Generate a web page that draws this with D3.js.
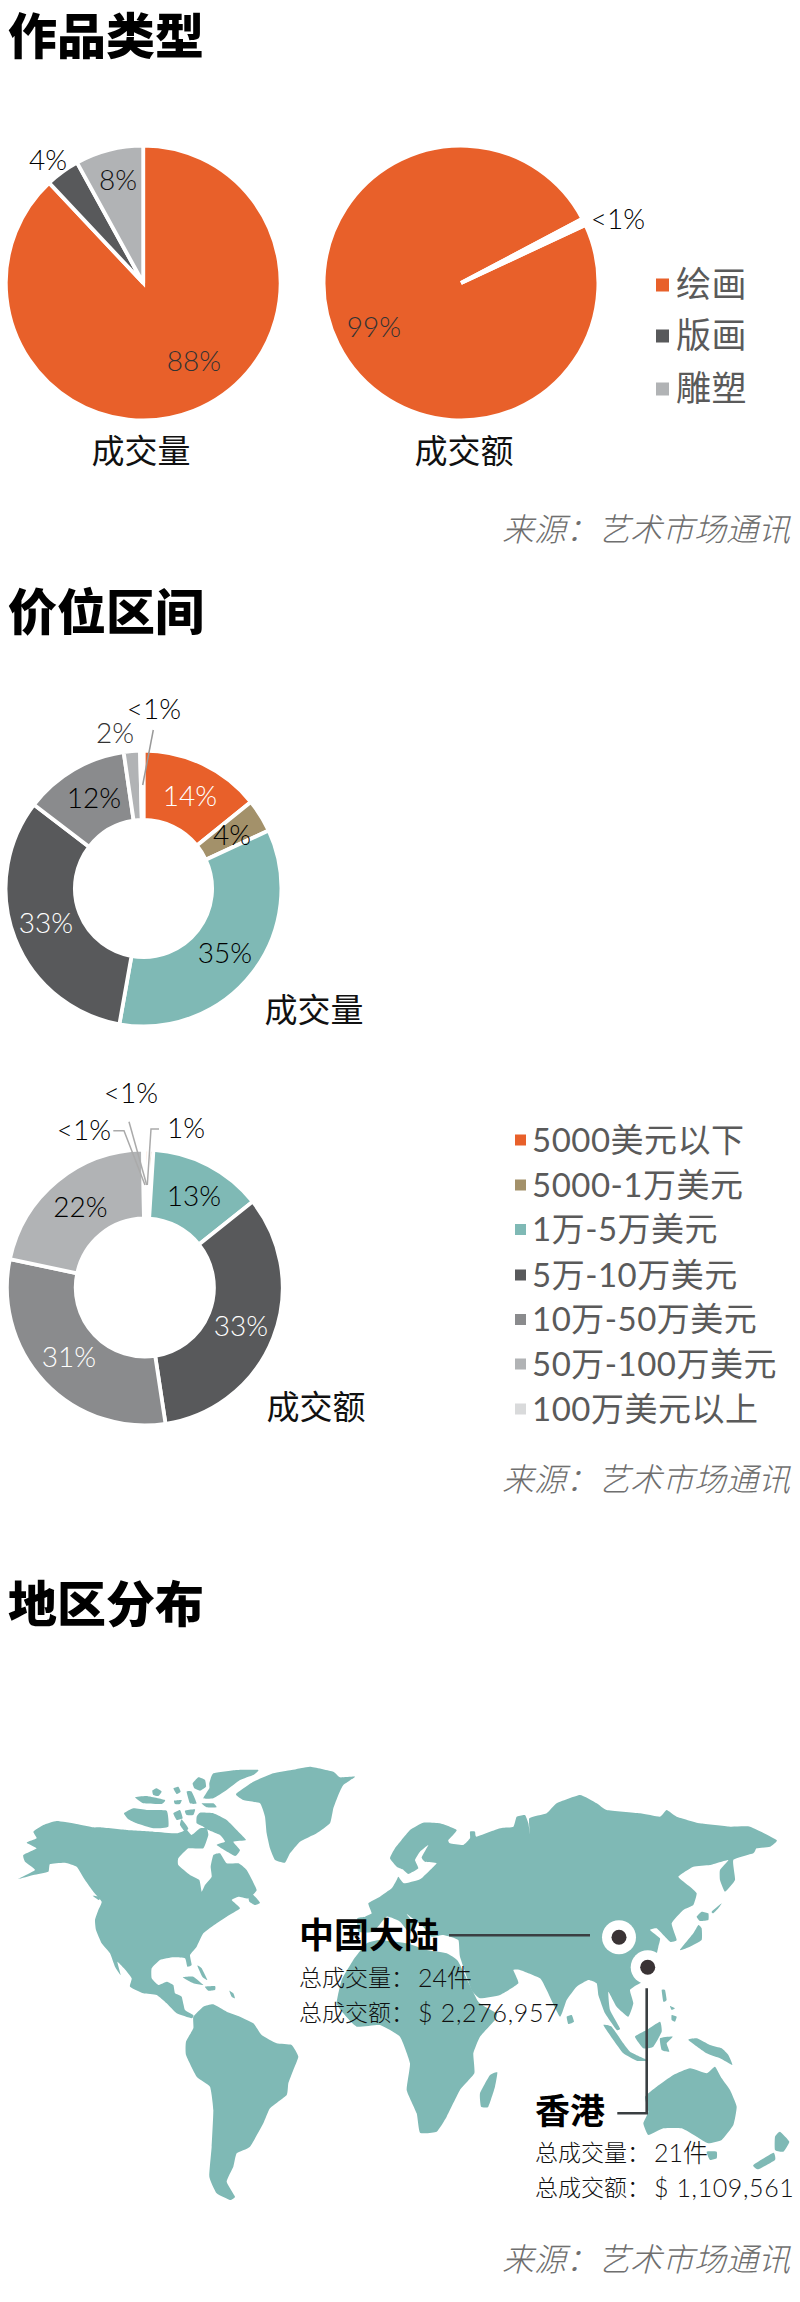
<!DOCTYPE html>
<html>
<head>
<meta charset="utf-8">
<script src="https://d3js.org/d3.v7.min.js"></script>
<style>
  body { margin: 0; background: #fff; }
  svg { display: block; }
  text { font-family: Lato, "Noto Sans CJK SC", sans-serif; }
</style>
</head>
<body>
<svg id="chart" width="800" height="2302"></svg>
<script>
// work type
var typeNames = ["绘画", "版画", "雕塑"];
var typeColors = ["#e8602a", "#58595b", "#b1b3b5"];
var typeVolume = [88, 4, 8];
var typeValueNames = ["绘画", "其他"];
var typeValue = [99.2, 0.8];
var typeValueColors = ["#e8602a", "#ffffff"];

// price range
var priceNames = ["5000美元以下", "5000-1万美元", "1万-5万美元", "5万-10万美元", "10万-50万美元", "50万-100万美元", "100万美元以上"];
var priceColors = ["#e8602a", "#a3916a", "#7fb9b5", "#58595b", "#8a8b8d", "#b1b3b5", "#d9dadb"];
var priceVolume = [14.2, 3.9, 34.7, 32.6, 12.3, 1.9, 0.4];
var priceValue = [0.5, 0.5, 13.3, 33.3, 30.7, 21.5, 0.2];

// map outlines (units: 1/3 px, see mapX / mapY)
var northAmerica = [[55,477],[100,465],[145,455],[150,432],[195,428],[230,440],[255,480],[280,515],[305,545],[295,570],[285,600],[288,630],[305,670],[330,700],[345,740],[362,765],[352,725],[372,745],[395,775],[390,800],[430,820],[470,825],[500,850],[530,880],[575,895],[580,885],[555,870],[545,830],[525,820],[520,795],[500,785],[475,795],[455,775],[455,745],[480,720],[520,712],[555,715],[562,740],[575,735],[570,705],[590,680],[610,640],[650,610],[680,590],[720,565],[695,540],[715,530],[745,535],[770,510],[740,450],[715,430],[680,430],[660,400],[640,405],[632,440],[635,470],[615,495],[605,515],[598,480],[570,465],[535,435],[535,415],[565,385],[610,385],[625,345],[620,325],[600,325],[575,345],[560,330],[530,340],[460,335],[380,330],[300,322],[280,322],[230,312],[170,303],[130,315],[100,335],[110,355],[80,368],[110,385],[70,405],[75,425],[105,450]];
var southAmerica = [[580,890],[610,860],[640,853],[680,875],[720,890],[760,910],[785,945],[830,970],[875,975],[895,1010],[880,1050],[865,1090],[860,1125],[810,1165],[790,1210],[750,1280],[710,1300],[700,1340],[680,1385],[705,1430],[690,1440],[650,1420],[628,1370],[635,1280],[640,1170],[630,1100],[590,1070],[558,1005],[558,965],[580,925]];
var greenland = [[708,222],[760,185],[820,160],[875,150],[930,140],[1000,155],[1020,172],[1065,170],[1030,195],[1015,225],[1000,265],[990,310],[950,340],[900,365],[870,400],[855,428],[825,420],[810,385],[800,340],[795,290],[780,250],[730,240]];
var baffin = [[590,290],[600,278],[640,280],[680,300],[715,335],[738,360],[700,365],[720,390],[705,408],[650,375],[675,365],[660,345],[625,330],[610,320],[590,310]];
var ellesmere = [[628,190],[640,160],[710,150],[775,150],[760,165],[720,180],[680,210],[640,235],[610,235],[628,205]];
var victoria = [[372,280],[400,265],[440,270],[500,272],[505,320],[460,325],[410,310],[385,298]];
var arcticIslands = [
    [[578,190],[595,172],[615,180],[618,200],[600,212],[583,205]],
    [[405,232],[440,228],[495,240],[485,252],[430,250]],
    [[457,212],[470,205],[485,215],[475,228],[460,225]],
    [[520,205],[535,200],[542,215],[530,222]],
    [[560,215],[575,215],[590,250],[570,250]],
    [[522,242],[545,240],[540,252],[525,252]],
    [[605,250],[640,250],[650,262],[620,262]],
    [[520,280],[540,270],[548,295],[530,300]],
    [[555,272],[585,268],[580,285],[560,285]],
    [[545,298],[565,325],[555,335],[540,315]]
];
var caribbean = [
    [[548,772],[580,770],[610,795],[580,790]],
    [[592,737],[605,745],[622,780],[607,770]],
    [[615,800],[645,798],[645,810],[625,812]],
    [[688,812],[700,820],[705,835],[695,830]],
    [[278,527],[300,530],[297,540]],
    [[745,530],[760,525],[780,548],[765,555],[748,545]]
];
var eurasia = [[1072,595],[1095,590],[1115,580],[1105,550],[1140,530],[1175,505],[1190,480],[1195,470],[1212,490],[1255,480],[1270,470],[1310,430],[1275,425],[1265,412],[1285,375],[1260,395],[1245,420],[1255,445],[1225,462],[1208,448],[1190,440],[1170,415],[1185,385],[1230,330],[1270,308],[1320,310],[1370,330],[1345,360],[1350,370],[1390,375],[1410,355],[1410,335],[1425,335],[1430,350],[1500,325],[1540,320],[1550,290],[1575,285],[1585,310],[1590,342],[1588,295],[1640,280],[1670,250],[1740,225],[1790,250],[1820,270],[1920,280],[1980,290],[2000,270],[2030,290],[2100,310],[2190,320],[2250,320],[2330,360],[2310,380],[2270,385],[2260,400],[2200,420],[2205,480],[2175,515],[2160,480],[2160,450],[2185,420],[2130,435],[2080,440],[2035,470],[2070,500],[2090,520],[2080,555],[2050,570],[2015,610],[2030,660],[2010,665],[1970,625],[1950,630],[1980,655],[1975,680],[1970,710],[1990,750],[1960,780],[1920,790],[1890,810],[1900,850],[1885,890],[1850,860],[1825,815],[1830,870],[1860,925],[1850,930],[1815,880],[1800,840],[1795,825],[1790,790],[1765,780],[1730,800],[1700,840],[1680,890],[1640,810],[1620,775],[1560,750],[1540,750],[1555,790],[1500,825],[1440,835],[1415,810],[1380,710],[1375,660],[1330,645],[1295,650],[1270,620],[1250,605],[1220,582],[1240,610],[1230,640],[1200,605],[1160,590],[1120,635],[1075,635]];
var africa = [[1010,850],[1025,780],[1060,720],[1100,670],[1140,660],[1220,670],[1280,690],[1340,700],[1375,725],[1435,845],[1490,880],[1485,900],[1440,950],[1420,1000],[1423,1060],[1380,1110],[1340,1190],[1310,1235],[1260,1238],[1250,1180],[1220,1110],[1230,1030],[1200,950],[1140,915],[1070,920],[1030,880]];
var australia = [[1935,1130],[1970,1100],[2020,1065],[2070,1045],[2120,1060],[2145,1040],[2165,1075],[2190,1110],[2210,1160],[2200,1215],[2165,1260],[2125,1270],[2090,1250],[2045,1225],[1990,1225],[1945,1245],[1930,1210],[1945,1175]];
var asiaIslands = [
    [[2090,590],[2105,575],[2125,580],[2125,600],[2100,603]],
    [[2040,690],[2080,640],[2095,615],[2105,625],[2105,660],[2070,680]],
    [[2135,575],[2165,550],[2155,565],[2140,580]],
    [[1985,810],[1995,810],[2000,840],[1990,845]],
    [[2010,858],[2025,865],[2015,870]],
    [[2015,885],[2030,890],[2025,905],[2015,900]],
    [[1810,915],[1835,920],[1870,970],[1890,995],[1920,1010],[1945,1022],[1910,1022],[1870,1000],[1840,960]],
    [[1905,950],[1940,930],[1980,905],[1985,935],[1960,980],[1930,985]],
    [[1980,955],[2018,950],[2000,970],[2008,995],[1985,990]],
    [[2065,960],[2090,955],[2130,975],[2165,985],[2185,1005],[2197,1035],[2160,1015],[2120,1000]],
    [[2120,1295],[2150,1295],[2150,1315],[2130,1320]],
    [[2325,1250],[2340,1235],[2368,1265],[2350,1295],[2325,1290]],
    [[2260,1335],[2320,1298],[2325,1320],[2275,1348]],
    [[1700,890],[1715,885],[1722,905],[1705,912]],
    [[1440,1120],[1470,1065],[1492,1057],[1485,1100],[1465,1160],[1443,1160]]
];
var mapShapes = [northAmerica, southAmerica, greenland, baffin, ellesmere, victoria].concat(arcticIslands, caribbean, [eurasia, africa, australia], asiaIslands);

var svg = d3.select("#chart");
var gap = 3.8;

function label(x, y, str, size, color, opts) {
    opts = opts || {};
    return svg.append("text")
        .attr("x", x)
        .attr("y", y)
        .attr("dy", "0.35em")
        .attr("text-anchor", opts.anchor || "middle")
        .attr("font-size", size)
        .attr("font-weight", opts.weight || 400)
        .attr("font-style", opts.style || "normal")
        .attr("letter-spacing", opts.spacing || 0)
        .attr("fill", color)
        .text(str);
}

function pct(x, y, str, color) {
    label(x, y, str, 28, color, { weight: 300 });
}

function title(y, str) {
    label(8, y, str, 49, "#000", { anchor: "start", weight: 900 });
}

function source(y) {
    label(502, y, "来源：艺术市场通讯", 32, "#6f6f6f", { anchor: "start", style: "italic", weight: 300 });
}

// radii are the visible ones, the white slice border eats half of gap
function drawPie(cx, cy, outer, inner, values, colors, start) {
    var toRad = Math.PI / 180;
    var pie = d3.pie().sort(null)
        .startAngle(start * toRad)
        .endAngle((start + 360) * toRad);
    var arc = d3.arc()
        .innerRadius(inner > 0 ? inner - gap / 2 : 0)
        .outerRadius(outer + gap / 2);
    svg.append("g")
        .attr("transform", "translate(" + cx + "," + cy + ")")
        .selectAll("path")
        .data(pie(values))
        .join("path")
        .attr("d", arc)
        .attr("fill", (d, i) => colors[i])
        .attr("stroke", "#fff")
        .attr("stroke-width", gap);
}

function drawLegend(x, ys, size, names, colors, fontSize, textX) {
    names.forEach((name, i) => {
        svg.append("rect")
            .attr("x", x)
            .attr("y", ys[i] - size / 2)
            .attr("width", size)
            .attr("height", size)
            .attr("fill", colors[i]);
        label(textX, ys[i], name, fontSize, "#5a5a5a", { anchor: "start", spacing: 0.5 });
    });
}

function leader(points, color, width) {
    svg.append("path")
        .attr("d", d3.line()(points))
        .attr("fill", "none")
        .attr("stroke", color)
        .attr("stroke-width", width || 1.5);
}

// section 1
title(37, "作品类型");
drawPie(143.2, 283, 135.5, 0, typeVolume, typeColors, 0);
drawPie(461, 283, 135.5, 0, typeValue, typeValueColors, 65);
pct(48, 160, "4%", "#000");
pct(118, 180, "8%", "#111");
pct(194, 361, "88%", "#333");
pct(374, 327, "99%", "#333");
pct(618, 219, "<1%", "#000");
label(141, 451, "成交量", 33, "#111");
label(464, 451, "成交额", 33, "#111");
drawLegend(656, [285, 336, 389], 13, typeNames, typeColors, 35, 676);
source(530);

// section 2
title(613, "价位区间");
drawPie(143.5, 888.5, 136, 70.5, priceVolume, priceColors, 0);
leader([[153.3, 730], [142.7, 785]], "#999");
pct(154, 709, "<1%", "#000");
pct(115, 733, "2%", "#333");
pct(190, 796, "14%", "#fff");
pct(232, 835, "4%", "#000");
pct(225, 953, "35%", "#000");
pct(46, 923, "33%", "#fff");
pct(94, 798, "12%", "#000");
label(314, 1010, "成交量", 33, "#111");

drawPie(144.8, 1287.5, 136, 71, priceValue, priceColors, 0);
leader([[159, 1129], [151, 1129], [147.3, 1185]], "#aaa");
leader([[129, 1121.7], [146.7, 1185]], "#aaa");
leader([[113.3, 1130.7], [124, 1130.7], [145, 1185]], "#aaa");
pct(131, 1093, "<1%", "#000");
pct(84, 1130, "<1%", "#000");
pct(186, 1128, "1%", "#000");
pct(194, 1196, "13%", "#000");
pct(80.5, 1207, "22%", "#000");
pct(241, 1326, "33%", "#fff");
pct(69, 1357, "31%", "#fff");
label(316, 1407, "成交额", 33, "#111");
drawLegend(515, [1140, 1185, 1229.5, 1275, 1319.5, 1364, 1409], 11, priceNames, priceColors, 33, 532);
source(1480);

// section 3
title(1605, "地区分布");
var mapX = d3.scaleLinear().domain([0, 2400]).range([0, 800]);
var mapY = d3.scaleLinear().domain([0, 1500]).range([1720, 2220]);
var outline = d3.line()
    .x(d => mapX(d[0]))
    .y(d => mapY(d[1]))
    .curve(d3.curveCardinalClosed.tension(0.6));
svg.append("g")
    .selectAll("path")
    .data(mapShapes)
    .join("path")
    .attr("d", outline)
    .attr("fill", "#7fb9b5");

leader([[449, 1935.3], [590, 1935.3]], "#3a3f42", 2.6);
leader([[646.7, 1988.3], [646.7, 2113.3], [617.3, 2113.3]], "#3a3f42", 2.6);
[[619, 1937.3], [647.7, 1967.3]].forEach(p => {
    svg.append("circle").attr("cx", p[0]).attr("cy", p[1]).attr("r", 17).attr("fill", "#fff");
    svg.append("circle").attr("cx", p[0]).attr("cy", p[1]).attr("r", 7.5).attr("fill", "#3a3335");
});

label(299, 1936, "中国大陆", 35, "#000", { anchor: "start", weight: 700 });
label(299, 1978, "总成交量：", 23, "#111", { anchor: "start", weight: 300 });
label(418, 1978, "24件", 25, "#111", { anchor: "start", weight: 300 });
label(299, 2013, "总成交额：", 23, "#111", { anchor: "start", weight: 300 });
label(418, 2013, "$ 2,276,957", 25, "#111", { anchor: "start", weight: 300, spacing: 0.7 });
label(535, 2112, "香港", 35, "#000", { anchor: "start", weight: 700 });
label(535, 2153, "总成交量：", 23, "#111", { anchor: "start", weight: 300 });
label(654, 2153, "21件", 25, "#111", { anchor: "start", weight: 300 });
label(535, 2188, "总成交额：", 23, "#111", { anchor: "start", weight: 300 });
label(654, 2188, "$ 1,109,561", 25, "#111", { anchor: "start", weight: 300, spacing: 0.6 });
source(2260);
</script>
</body>
</html>
